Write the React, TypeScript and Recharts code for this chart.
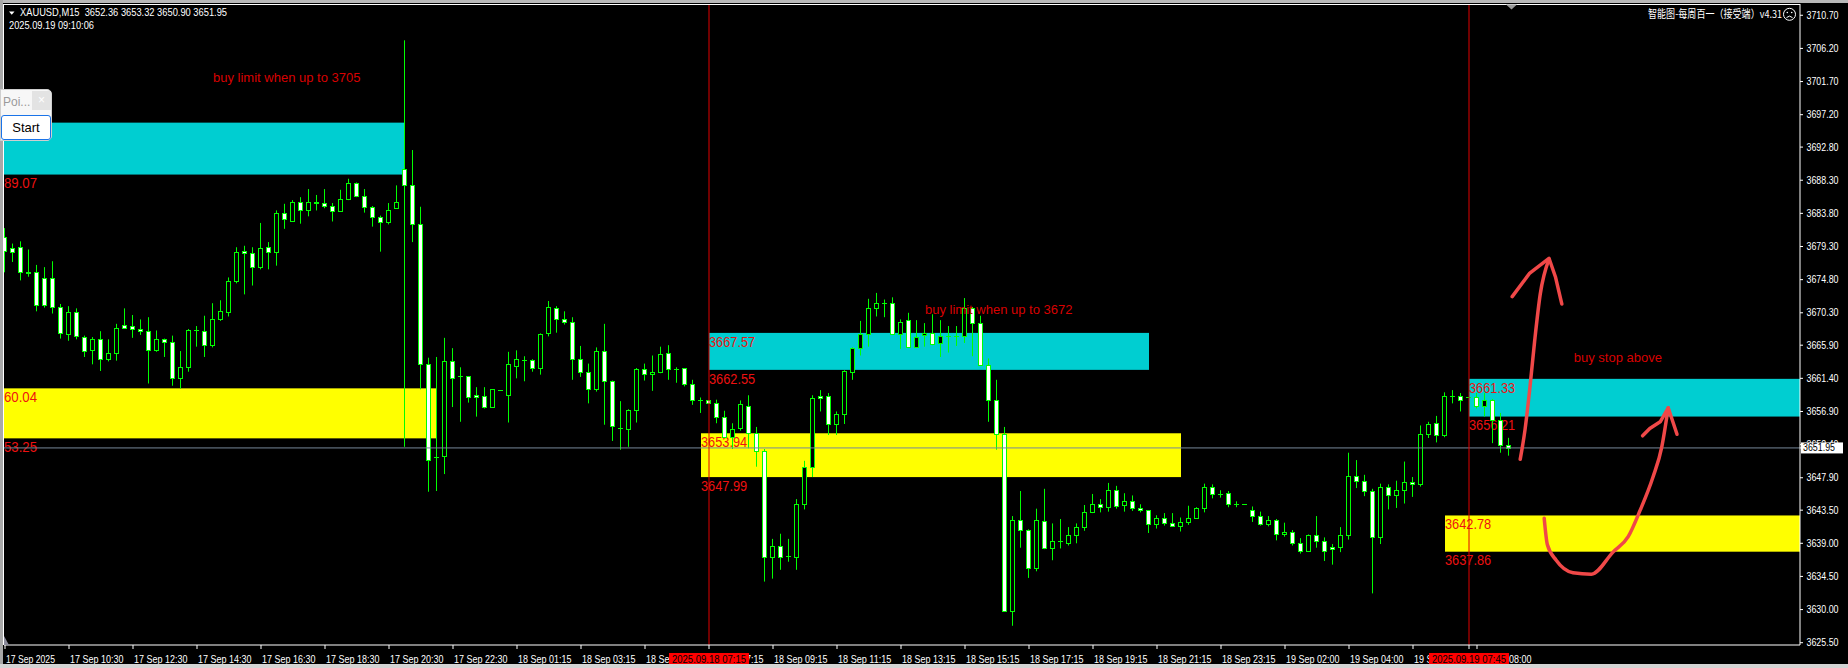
import React from "react";
import {
  ComposedChart,
  Bar,
  Line,
  XAxis,
  YAxis,
  ReferenceArea,
  ReferenceLine,
  ReferenceDot,
} from "recharts";

// XAUUSD M15, 17 Sep 08:30 -> 19 Sep 09:00 (one value per bar)
const opens = [
  3680.6, 3679.1, 3679.2, 3675.8, 3675.8, 3675.0, 3675.0, 3671.1, 3667.4, 3670.4,
  3667.0, 3665.2, 3666.8, 3664.0, 3664.8, 3668.6, 3668.5, 3668.1, 3667.8, 3665.2,
  3666.8, 3666.3, 3661.4, 3662.9, 3667.9, 3667.8, 3665.9, 3669.4, 3670.4, 3674.6,
  3678.7, 3678.4, 3676.5, 3679.2, 3678.6, 3683.9, 3682.8, 3685.3, 3684.2, 3685.3,
  3685.2, 3684.8, 3684.1, 3685.7, 3687.9, 3686.1, 3684.6, 3683.3, 3682.6, 3684.5,
  3689.8, 3687.7, 3682.3, 3663.4, 3650.7, 3650.8, 3663.8, 3661.7, 3661.7, 3659.1,
  3659.0, 3657.5, 3659.8, 3659.2, 3663.1, 3663.9, 3663.9, 3662.8, 3667.5, 3671.0,
  3669.4, 3669.0, 3664.0, 3662.2, 3659.9, 3665.1, 3661.0, 3654.7, 3654.5, 3657.1,
  3662.6, 3662.0, 3662.2, 3664.8, 3662.6, 3662.8, 3660.6, 3658.5, 3658.4, 3658.0,
  3656.2, 3653.5, 3654.6, 3657.7, 3654.0, 3651.5, 3637.1, 3638.7, 3637.3, 3637.2,
  3644.4, 3649.3, 3659.0, 3659.0, 3655.2, 3656.5, 3662.2, 3665.5, 3667.4, 3671.0,
  3671.6, 3671.6, 3667.4, 3669.3, 3665.7, 3667.3, 3667.6, 3666.2, 3667.1, 3667.1,
  3667.2, 3671.0, 3668.9, 3663.2, 3658.5, 3653.9, 3629.8, 3642.1, 3640.8, 3635.6,
  3642.0, 3638.3, 3639.3, 3639.1, 3640.1, 3641.2, 3643.3, 3644.3, 3643.9, 3646.2,
  3644.2, 3644.8, 3643.8, 3643.5, 3641.6, 3642.4, 3641.7, 3641.3, 3641.9, 3642.5,
  3643.8, 3646.6, 3645.7, 3645.8, 3644.4, 3644.3, 3643.5, 3642.7, 3641.6, 3642.1,
  3640.2, 3640.6, 3639.1, 3637.9, 3640.1, 3639.3, 3638.5, 3638.5, 3640.1, 3648.1,
  3647.5, 3646.1, 3639.8, 3646.7, 3645.6, 3646.3, 3647.3, 3647.1, 3653.9, 3655.3,
  3653.7, 3659.0, 3659.0, 3658.8, 3658.8, 3657.7, 3658.4, 3655.8, 3652.36,
];
const highs = [
  3681.8, 3679.7, 3680.0, 3678.9, 3676.8, 3676.5, 3677.3, 3671.5, 3671.2, 3670.9,
  3667.2, 3667.0, 3667.8, 3666.7, 3668.8, 3670.9, 3670.0, 3669.4, 3669.7, 3667.9,
  3666.8, 3667.2, 3665.1, 3668.1, 3668.5, 3669.9, 3671.6, 3672.0, 3675.1, 3679.2,
  3679.4, 3679.2, 3682.5, 3679.9, 3684.2, 3685.1, 3685.6, 3686.0, 3687.1, 3686.3,
  3687.1, 3685.2, 3687.0, 3688.5, 3688.0, 3687.1, 3684.8, 3683.5, 3685.2, 3687.6,
  3707.3, 3692.4, 3684.7, 3664.2, 3664.3, 3666.9, 3665.5, 3662.9, 3661.7, 3660.2,
  3660.2, 3659.9, 3659.8, 3665.0, 3665.2, 3664.4, 3664.0, 3667.5, 3671.9, 3671.2,
  3670.5, 3669.7, 3665.8, 3663.4, 3665.6, 3668.8, 3661.1, 3658.3, 3657.2, 3662.8,
  3663.4, 3664.5, 3665.7, 3665.9, 3662.9, 3662.8, 3661.2, 3658.8, 3658.4, 3658.5,
  3657.0, 3655.3, 3658.4, 3659.1, 3654.8, 3651.8, 3639.6, 3640.3, 3639.6, 3645.0,
  3650.2, 3659.1, 3659.8, 3659.4, 3656.9, 3662.5, 3665.6, 3669.2, 3672.2, 3673.0,
  3672.1, 3672.4, 3669.4, 3670.3, 3669.3, 3668.9, 3670.1, 3669.3, 3668.5, 3668.5,
  3672.3, 3671.1, 3669.9, 3664.1, 3661.2, 3654.8, 3642.7, 3646.1, 3640.9, 3643.7,
  3646.4, 3641.7, 3642.3, 3641.2, 3641.7, 3644.2, 3645.7, 3645.0, 3647.2, 3646.8,
  3645.8, 3645.5, 3644.3, 3643.5, 3642.8, 3643.1, 3643.1, 3642.5, 3644.1, 3643.9,
  3647.1, 3647.0, 3646.2, 3646.1, 3644.7, 3644.3, 3644.0, 3643.3, 3642.7, 3642.3,
  3641.8, 3640.8, 3639.7, 3640.2, 3642.7, 3639.8, 3638.9, 3641.2, 3651.3, 3650.3,
  3648.3, 3646.4, 3647.1, 3647.0, 3647.5, 3650.1, 3648.0, 3655.0, 3655.5, 3656.3,
  3659.5, 3659.8, 3659.4, 3658.8, 3659.4, 3659.4, 3658.6, 3656.7, 3653.32,
];
const lows = [
  3675.8, 3677.2, 3674.7, 3675.2, 3670.5, 3671.0, 3670.2, 3666.8, 3666.5, 3666.7,
  3664.3, 3663.3, 3662.4, 3663.7, 3663.8, 3668.1, 3666.9, 3667.3, 3660.7, 3665.0,
  3664.3, 3660.4, 3660.0, 3662.3, 3665.7, 3664.3, 3665.6, 3669.2, 3669.8, 3674.3,
  3672.8, 3674.0, 3676.2, 3676.2, 3676.7, 3681.7, 3682.7, 3682.4, 3683.4, 3684.2,
  3684.5, 3682.7, 3684.0, 3685.6, 3686.0, 3683.9, 3682.0, 3678.6, 3682.3, 3684.5,
  3652.1, 3679.9, 3659.9, 3646.0, 3646.1, 3648.4, 3657.5, 3655.5, 3658.1, 3656.2,
  3657.3, 3657.5, 3659.8, 3655.4, 3661.4, 3661.0, 3662.3, 3661.9, 3667.1, 3667.6,
  3668.7, 3661.2, 3661.6, 3658.0, 3659.6, 3655.1, 3652.9, 3651.7, 3652.1, 3655.4,
  3661.1, 3659.7, 3662.1, 3661.2, 3660.8, 3660.3, 3657.8, 3656.7, 3658.0, 3655.3,
  3653.5, 3651.8, 3654.3, 3651.9, 3649.4, 3633.8, 3634.2, 3635.4, 3636.5, 3635.4,
  3643.6, 3648.0, 3656.9, 3653.7, 3653.7, 3655.2, 3661.2, 3664.5, 3665.7, 3669.8,
  3669.7, 3667.4, 3665.4, 3665.7, 3665.7, 3665.7, 3665.9, 3664.3, 3664.9, 3665.8,
  3666.2, 3664.4, 3663.2, 3655.5, 3651.7, 3629.8, 3627.8, 3638.4, 3634.3, 3635.2,
  3638.2, 3636.7, 3638.3, 3638.7, 3639.0, 3640.7, 3643.1, 3643.2, 3643.3, 3643.7,
  3643.3, 3643.4, 3643.2, 3640.4, 3641.0, 3641.4, 3641.3, 3640.6, 3641.5, 3642.3,
  3643.2, 3645.1, 3645.2, 3643.9, 3643.9, 3644.3, 3641.9, 3641.4, 3641.3, 3639.4,
  3639.9, 3638.7, 3637.6, 3637.9, 3638.4, 3636.6, 3636.1, 3637.8, 3639.5, 3646.5,
  3645.4, 3632.2, 3638.9, 3643.6, 3643.8, 3644.4, 3645.3, 3646.7, 3653.3, 3652.7,
  3653.4, 3658.0, 3656.9, 3658.8, 3657.3, 3656.2, 3652.6, 3651.3, 3650.9,
];
const closes = [
  3678.7, 3678.6, 3675.8, 3675.7, 3671.4, 3671.4, 3671.1, 3667.5, 3670.4, 3667.2,
  3665.1, 3666.8, 3664.0, 3664.8, 3668.2, 3668.3, 3668.1, 3667.8, 3665.2, 3666.8,
  3666.3, 3661.4, 3662.9, 3667.9, 3667.9, 3665.9, 3669.4, 3670.5, 3674.6, 3678.6,
  3678.4, 3676.5, 3679.1, 3678.6, 3683.9, 3683.0, 3685.3, 3684.2, 3685.3, 3685.2,
  3684.8, 3684.1, 3685.7, 3687.9, 3686.1, 3684.6, 3683.3, 3682.6, 3684.3, 3685.4,
  3687.7, 3682.3, 3663.4, 3650.3, 3650.7, 3663.8, 3661.5, 3661.7, 3658.8, 3658.8,
  3657.5, 3659.9, 3659.8, 3663.3, 3664.0, 3663.9, 3662.8, 3667.4, 3671.1, 3669.4,
  3669.0, 3664.0, 3662.2, 3659.9, 3665.1, 3661.1, 3654.9, 3654.7, 3657.1, 3662.6,
  3662.0, 3662.2, 3664.7, 3662.6, 3662.6, 3660.6, 3658.4, 3658.5, 3658.0, 3656.2,
  3653.5, 3654.5, 3657.9, 3654.0, 3651.5, 3637.1, 3638.6, 3637.2, 3637.3, 3644.3,
  3649.3, 3658.7, 3658.7, 3655.2, 3656.5, 3662.4, 3665.5, 3667.4, 3671.0, 3671.6,
  3671.6, 3667.4, 3669.1, 3665.7, 3667.0, 3667.6, 3666.0, 3667.2, 3667.1, 3667.1,
  3671.0, 3668.9, 3663.2, 3658.5, 3653.8, 3629.8, 3642.1, 3640.8, 3635.6, 3642.1,
  3638.3, 3639.3, 3639.3, 3640.1, 3641.2, 3643.3, 3644.3, 3643.9, 3646.3, 3644.0,
  3644.7, 3643.8, 3643.5, 3641.6, 3642.4, 3641.7, 3641.3, 3641.9, 3642.5, 3643.8,
  3646.6, 3645.7, 3645.7, 3644.4, 3644.4, 3644.3, 3642.7, 3641.6, 3642.1, 3640.2,
  3640.6, 3639.1, 3638.0, 3640.1, 3639.3, 3638.0, 3638.2, 3640.1, 3648.1, 3647.5,
  3646.1, 3639.8, 3646.7, 3645.6, 3646.3, 3647.3, 3647.0, 3653.9, 3655.2, 3653.7,
  3659.0, 3659.0, 3658.5, 3658.8, 3657.7, 3658.4, 3655.8, 3652.4, 3651.95,
];

// time axis: bar index -> label
const tickIdx = [0, 8, 16, 24, 32, 40, 48, 56, 64, 72, 80, 88, 96, 104, 112, 120, 128, 136, 144, 152, 160, 168, 176, 184];
const tickText = [
  "17 Sep 2025", "17 Sep 10:30", "17 Sep 12:30", "17 Sep 14:30", "17 Sep 16:30", "17 Sep 18:30",
  "17 Sep 20:30", "17 Sep 22:30", "18 Sep 01:15", "18 Sep 03:15", "18 Sep 05:15", "18 Sep 07:15",
  "18 Sep 09:15", "18 Sep 11:15", "18 Sep 13:15", "18 Sep 15:15", "18 Sep 17:15", "18 Sep 19:15",
  "18 Sep 21:15", "18 Sep 23:15", "19 Sep 02:00", "19 Sep 04:00", "19 Sep 06:00", "19 Sep 08:00",
];
const yTicks = [
  3710.7, 3706.2, 3701.7, 3697.2, 3692.8, 3688.3, 3683.8, 3679.3, 3674.8, 3670.3,
  3665.9, 3661.4, 3656.9, 3652.4, 3647.9, 3643.5, 3639.0, 3634.5, 3630.0, 3625.5,
];
const bid = 3651.95;

// vertical markers (bar index + time text)
const markerIdx = [88, 183];
const markerText = ["2025.09.18 07:15", "2025.09.19 07:45"];

const XMIN = -0.125;
const XMAX = 224.375;
const YMIN = 3625.19;
const YMAX = 3712.23;

// zones: kind "up" = cyan, "down" = yellow
const zones = [
  { kind: "up", x1: XMIN, x2: 50, top: 3696.12, bottom: 3689.07, topLabel: "", bottomLabel: "89.07" },
  { kind: "down", x1: XMIN, x2: 54, top: 3660.04, bottom: 3653.25, topLabel: "60.04", bottomLabel: "53.25" },
  { kind: "down", x1: 87, x2: 147, top: 3653.94, bottom: 3647.99, topLabel: "3653.94", bottomLabel: "3647.99" },
  { kind: "up", x1: 88, x2: 143, top: 3667.57, bottom: 3662.55, topLabel: "3667.57", bottomLabel: "3662.55" },
  { kind: "down", x1: 180, x2: XMAX, top: 3642.78, bottom: 3637.86, topLabel: "3642.78", bottomLabel: "3637.86" },
  { kind: "up", x1: 183, x2: XMAX, top: 3661.33, bottom: 3656.21, topLabel: "3661.33", bottomLabel: "3656.21" },
];

const notes = [
  { i: 26.0, p: 3702.05, text: "buy limit when up to 3705" },
  { i: 115.0, p: 3670.57, text: "buy limit when up to 3672" },
  { i: 196.1, p: 3664.08, text: "buy stop above" },
];

// hand-drawn arrows (bar index, price)
const arrowUp = [
  { i: 189.4, p: 3650.4 }, { i: 190.0, p: 3654.4 }, { i: 190.6, p: 3660.0 },
  { i: 191.2, p: 3666.4 }, { i: 191.9, p: 3672.8 }, { i: 193.0, p: 3677.6 },
];
const arrowUpHead = [
  { i: 188.4, p: 3672.5 }, { i: 190.6, p: 3675.7 }, { i: 193.0, p: 3677.7 },
  { i: 193.8, p: 3675.2 }, { i: 194.6, p: 3671.5 },
];
const arrowHook = [
  { i: 192.4, p: 3642.4 }, { i: 192.8, p: 3638.8 }, { i: 193.9, p: 3636.7 },
  { i: 196.0, p: 3635.0 }, { i: 198.3, p: 3634.8 }, { i: 201.0, p: 3637.8 },
  { i: 202.9, p: 3639.9 }, { i: 204.4, p: 3643.5 }, { i: 206.0, p: 3648.0 },
  { i: 207.1, p: 3652.1 }, { i: 207.9, p: 3657.4 },
];
const arrowHookHead = [
  { i: 204.7, p: 3653.6 }, { i: 205.6, p: 3654.6 }, { i: 206.9, p: 3655.5 },
  { i: 207.9, p: 3657.4 }, { i: 209.0, p: 3653.8 },
];

const candles = opens.map((o, i) => ({
  i,
  o,
  h: highs[i],
  l: lows[i],
  c: closes[i],
  range: [lows[i], highs[i]],
}));

// label ticks first, then marker ticks not already present, so tags draw on top
const xTicks = [...tickIdx, ...markerIdx.filter((m) => !tickIdx.includes(m))];
const priceTicks = [...yTicks, bid];

const W = 1848;
const H = 668;
const LIME = "#00ff00";
const CYAN = "#00ced1";
const YELLOW = "#ffff00";
const LABEL_RED = "#ee1111";
const NOTE_RED = "#d80000";
const ARROW = "#f04848";
const UI = "'Liberation Sans', Arial, sans-serif";

const Candle = (props: any) => {
  const { x, y, width, height, payload } = props;
  if (!payload || x == null || y == null) return null;
  const { o, h, l, c } = payload;
  const top = Math.min(y, y + height);
  const span = Math.abs(height);
  const py = (v: number) => (h === l ? top : top + ((h - v) / (h - l)) * span);
  const cx = Math.round(x + width / 2 - 0.5) + 0.5;
  const bTop = Math.round(py(Math.max(o, c))) + 0.5;
  const bBot = Math.round(py(Math.min(o, c))) + 0.5;
  return (
    <g>
      {span > 0.5 && (
        <line x1={cx} x2={cx} y1={py(h)} y2={py(l)} stroke={LIME} strokeWidth={1} />
      )}
      {bBot - bTop < 1 ? (
        <line x1={cx - 2.5} x2={cx + 2.5} y1={bTop} y2={bTop} stroke={LIME} strokeWidth={1} />
      ) : (
        <rect
          x={cx - 2}
          y={bTop}
          width={4}
          height={bBot - bTop}
          fill={c > o ? "#000" : "#fff"}
          stroke={LIME}
          strokeWidth={1}
        />
      )}
    </g>
  );
};

const ZoneShape = (props: any) => {
  const { x, y, width, height, zone } = props;
  if (x == null) return null;
  const lbl = (s: string, ty: number) =>
    s ? (
      <text
        x={x}
        y={ty}
        fill={LABEL_RED}
        fontSize={15}
        fontFamily={UI}
        textLength={s.length * 6.6}
        lengthAdjust="spacingAndGlyphs"
      >
        {s}
      </text>
    ) : null;
  return (
    <g>
      <rect x={x} y={y} width={width} height={height} fill={zone.kind === "up" ? CYAN : YELLOW} />
      {lbl(zone.topLabel, y + 13.7)}
      {lbl(zone.bottomLabel, y + height + 13.7)}
    </g>
  );
};

const TimeTick = (props: any) => {
  const { x, y, payload } = props;
  const k = tickIdx.indexOf(payload.value);
  const m = markerIdx.indexOf(payload.value);
  const s = k >= 0 ? tickText[k] : "";
  return (
    <g>
      {s && (
        <text
          x={x + 1}
          y={y + 11.5}
          fill="#fff"
          fontSize={10.5}
          fontFamily={UI}
          textLength={s.length * 4.45}
          lengthAdjust="spacingAndGlyphs"
        >
          {s}
        </text>
      )}
      {m >= 0 && (
        <g>
          <rect x={x - 40} y={y + 2} width={80} height={13} fill="#ff0000" />
          <text
            x={x - 37}
            y={y + 12}
            fill="#000"
            fontSize={10.5}
            fontFamily={UI}
            textLength={74}
            lengthAdjust="spacingAndGlyphs"
          >
            {markerText[m]}
          </text>
        </g>
      )}
    </g>
  );
};

const PriceTick = (props: any) => {
  const { x, y, payload } = props;
  const isBid = payload.value === bid;
  return (
    <g>
      {isBid && <rect x={x - 4} y={y - 5.5} width={42} height={11} fill="#fff" />}
      <text
        x={isBid ? x - 2 : x + 1.5}
        y={y + 3.5}
        fill={isBid ? "#000" : "#fff"}
        fontSize={10}
        fontFamily={UI}
        textLength={32}
        lengthAdjust="spacingAndGlyphs"
      >
        {Number(payload.value).toFixed(2)}
      </text>
    </g>
  );
};

export default function App() {
  return (
    <div
      style={{
        position: "absolute",
        left: 0,
        top: 0,
        width: W,
        height: H,
        background: "#000",
        overflow: "hidden",
        fontFamily: UI,
      }}
    >
      <ComposedChart width={W} height={H} data={candles} margin={{ top: 4, right: 0, bottom: 0, left: 4 }}>
        <XAxis
          type="number"
          dataKey="i"
          domain={[XMIN, XMAX]}
          allowDataOverflow
          ticks={xTicks}
          interval={0}
          tick={(p: any) => <TimeTick {...p} />}
          tickLine={{ stroke: "#fff" }}
          tickSize={4}
          axisLine={{ stroke: "#fff" }}
          height={23}
        />
        <YAxis
          type="number"
          orientation="right"
          domain={[YMIN, YMAX]}
          allowDataOverflow
          ticks={priceTicks}
          interval={0}
          tick={(p: any) => <PriceTick {...p} />}
          tickLine={{ stroke: "#fff" }}
          tickSize={3}
          axisLine={{ stroke: "#fff" }}
          width={48}
        />

        {zones.map((z, k) => (
          <ReferenceArea
            key={`z${k}`}
            x1={z.x1}
            x2={z.x2}
            y1={z.bottom}
            y2={z.top}
            ifOverflow="hidden"
            shape={(p: any) => <ZoneShape {...p} zone={z} />}
          />
        ))}

        {notes.map((n, k) => (
          <ReferenceDot
            key={`n${k}`}
            x={n.i}
            y={n.p}
            r={0}
            shape={(p: any) => (
              <text x={p.cx} y={p.cy + 3.5} fill={NOTE_RED} fontSize={13} fontFamily={UI}>
                {n.text}
              </text>
            )}
          />
        ))}

        <Bar
          dataKey="range"
          barSize={5}
          isAnimationActive={false}
          shape={(p: any) => <Candle {...p} />}
        />

        <ReferenceLine y={bid} stroke="#778899" strokeWidth={1} />
        {markerIdx.map((m, k) => (
          <ReferenceLine key={`m${k}`} x={m} stroke="#e00000" strokeWidth={1} />
        ))}

        <Line data={arrowUp} dataKey="p" type="monotone" stroke={ARROW} strokeWidth={3.5} dot={false} activeDot={false} isAnimationActive={false} strokeLinecap="round" />
        <Line data={arrowUpHead} dataKey="p" type="linear" stroke={ARROW} strokeWidth={3.5} dot={false} activeDot={false} isAnimationActive={false} strokeLinecap="round" strokeLinejoin="round" />
        <Line data={arrowHook} dataKey="p" type="monotone" stroke={ARROW} strokeWidth={3.5} dot={false} activeDot={false} isAnimationActive={false} strokeLinecap="round" />
        <Line data={arrowHookHead} dataKey="p" type="linear" stroke={ARROW} strokeWidth={3.5} dot={false} activeDot={false} isAnimationActive={false} strokeLinecap="round" strokeLinejoin="round" />
      </ComposedChart>

      {/* header, frame and terminal bits */}
      <svg width={W} height={H} style={{ position: "absolute", left: 0, top: 0, pointerEvents: "none" }}>
        <line x1={3.5} x2={3.5} y1={4} y2={645} stroke="#fff" />
        <line x1={3} x2={1800} y1={4.5} y2={4.5} stroke="#fff" />
        <polygon points="9,11.5 14.5,11.5 11.75,14.7" fill="#fff" />
        <text x={20} y={16} fill="#fff" fontSize={10.5} fontFamily={UI} textLength={207} lengthAdjust="spacingAndGlyphs" style={{ whiteSpace: "pre" }}>
          {"XAUUSD,M15  3652.36 3653.32 3650.90 3651.95"}
        </text>
        <text x={9} y={28.7} fill="#fff" fontSize={10.5} fontFamily={UI} textLength={85} lengthAdjust="spacingAndGlyphs">
          2025.09.19 09:10:06
        </text>
        <text x={1648} y={18} fill="#fff" fontSize={11} fontFamily="'Noto Sans CJK SC', sans-serif" textLength={134} lengthAdjust="spacingAndGlyphs">
          智能图-每周百一（接受端）v4.31
        </text>
        <circle cx={1789.5} cy={14.3} r={6} fill="none" stroke="#fff" strokeWidth={1} />
        <circle cx={1787.3} cy={12.5} r={0.8} fill="#fff" />
        <circle cx={1791.7} cy={12.5} r={0.8} fill="#fff" />
        <path d="M1786.5,17.6 Q1789.5,14.6 1792.5,17.6" fill="none" stroke="#fff" strokeWidth={1} />
        <polygon points="1506,4.5 1517,4.5 1511.5,9.5" fill="#9a9a9a" />
        <polygon points="4,636 4,645 9,645" fill="#8a8a9a" />
      </svg>
      <div style={{ position: "absolute", left: 0, top: 0, width: W, height: 3, background: "#b8b8b8" }} />
      <div style={{ position: "absolute", left: 0, top: 0, width: 3, height: H, background: "#a8a8a8" }} />
      <div style={{ position: "absolute", left: 0, top: H - 4, width: W, height: 4, background: "#d4d4d4" }} />

      {/* floating panel */}
      <div
        style={{
          position: "absolute",
          left: 0,
          top: 89,
          width: 52,
          height: 52,
          background: "#f7f7f7",
          border: "1px solid #cfcfcf",
          borderRadius: "0 5px 5px 0",
          boxSizing: "border-box",
        }}
      >
        <div style={{ position: "absolute", left: 2, top: 5, fontSize: 12, color: "#9a9a9a" }}>Poi...</div>
        <div
          style={{
            position: "absolute",
            left: 31,
            top: 1,
            width: 19,
            height: 19,
            background: "#e3e3e3",
            color: "#fff",
            fontSize: 12,
            textAlign: "center",
            lineHeight: "19px",
          }}
        >
          ×
        </div>
        <div
          style={{
            position: "absolute",
            left: 0,
            top: 25,
            width: 50,
            height: 25,
            border: "1px solid #1a73e8",
            borderRadius: 3,
            background: "#fff",
            boxSizing: "border-box",
            textAlign: "center",
            lineHeight: "23px",
            fontSize: 13,
            color: "#000",
          }}
        >
          Start
        </div>
      </div>
    </div>
  );
}
